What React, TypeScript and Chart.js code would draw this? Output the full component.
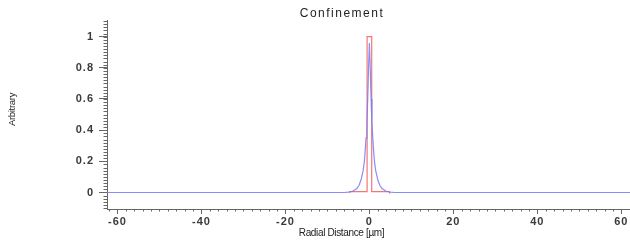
import React, { useEffect, useRef } from "react";
import { Chart, registerables } from "chart.js";

Chart.register(...registerables);

const chartTitle = "Confinement";
const xTitle = "Radial Distance [µm]";
const yTitle = "Arbitrary";

const xMin = -62.5;
const xMax = 62.07;
const yMin = -0.106;
const yMax = 1.107;

const xTicks = [-60, -40, -20, 0, 20, 40, 60];
const yTicks = [0, 0.2, 0.4, 0.6, 0.8, 1];
const xMinorStep = 2;
const yMinorStep = 0.02;

// Blue curve (broad peak)
const blueX = [-62.5, -6, -5, -4, -3, -2.5, -2, -1.5, -1.2, -1, -0.8, -0.6, -0.4, -0.2, 0, 0.2, 0.4, 0.6, 0.8, 1, 1.2, 1.5, 2, 2.5, 3, 4, 5, 6, 62.5];
const blueY = [0, 0, 0.002, 0.008, 0.025, 0.045, 0.08, 0.14, 0.2, 0.27, 0.35, 0.45, 0.6, 0.8, 0.96, 0.8, 0.6, 0.45, 0.35, 0.27, 0.2, 0.14, 0.08, 0.045, 0.025, 0.008, 0.002, 0, 0];

// Red curve (rectangular confinement)
const redX = [-4.8, -4.7, -0.55, -0.55, 0.55, 0.55, 4.7, 4.8];
const redY = [0, 0.005, 0.005, 1, 1, 0.005, 0.005, 0];

const FONT = "'Liberation Sans', Arial, sans-serif";

const decorPlugin = {
  id: "decor",
  beforeDraw(chart: any) {
    (chart.ctx as any).letterSpacing = "1px";
  },
  afterDraw(chart: any) {
    const ctx = chart.ctx as any;
    const xs = chart.scales.x;
    const ys = chart.scales.y;
    const area = chart.chartArea;
    ctx.save();
    ctx.strokeStyle = "#666";
    ctx.lineWidth = 1;
    ctx.beginPath();
    // minor x ticks
    const xStart = Math.ceil(xMin / xMinorStep) * xMinorStep;
    for (let v = xStart; v <= xMax + 1e-9; v += xMinorStep) {
      const px = Math.round(xs.getPixelForValue(v)) + 0.5;
      ctx.moveTo(px, area.bottom);
      ctx.lineTo(px, area.bottom + 2.5);
    }
    // minor y ticks
    const nStart = Math.ceil(yMin / yMinorStep);
    const nEnd = Math.floor(yMax / yMinorStep);
    for (let n = nStart; n <= nEnd; n++) {
      const v = n * yMinorStep;
      const py = Math.round(ys.getPixelForValue(v)) + 0.5;
      ctx.moveTo(area.left, py);
      ctx.lineTo(area.left - 3.5, py);
    }
    ctx.stroke();

    ctx.fillStyle = "#222";
    ctx.textAlign = "center";
    ctx.textBaseline = "middle";
    ctx.letterSpacing = "1.5px";
    ctx.font = `12px ${FONT}`;
    ctx.fillText(chartTitle, 342, 14);
    ctx.letterSpacing = "-0.35px";
    ctx.font = `10px ${FONT}`;
    ctx.fillText(xTitle, 341.5, 233.5);
    ctx.translate(12.5, 109.5);
    ctx.rotate(-Math.PI / 2);
    ctx.letterSpacing = "-0.3px";
    ctx.font = `9.5px ${FONT}`;
    ctx.fillText(yTitle, 0, 0);
    ctx.restore();
  },
};

export default function App() {
  const ref = useRef<HTMLCanvasElement | null>(null);

  useEffect(() => {
    document.body.style.margin = "0";
    const canvas = ref.current;
    if (!canvas) return;
    const chart = new Chart(canvas, {
      type: "line",
      data: {
        datasets: [
          {
            label: "blue",
            data: blueX.map((x, i) => ({ x, y: blueY[i] })),
            borderColor: "rgba(120,120,245,0.85)",
            borderWidth: 1.2,
            pointRadius: 0,
            tension: 0,
            fill: false,
          },
          {
            label: "red",
            data: redX.map((x, i) => ({ x, y: redY[i] })),
            borderColor: "rgba(238,95,95,0.85)",
            borderWidth: 1.2,
            pointRadius: 0,
            tension: 0,
            fill: false,
          },
        ],
      },
      plugins: [decorPlugin],
      options: {
        animation: false,
        responsive: false,
        events: [],
        layout: { padding: { top: 20, left: 0, right: 0, bottom: 0 } },
        plugins: {
          legend: { display: false },
          title: { display: false },
          tooltip: { enabled: false },
        },
        scales: {
          x: {
            type: "linear",
            min: xMin,
            max: xMax,
            afterBuildTicks: (s: any) => {
              s.ticks = xTicks.map((v) => ({ value: v }));
            },
            afterFit: (s: any) => {
              s.height = 32;
            },
            grid: {
              display: true,
              drawOnChartArea: false,
              drawTicks: true,
              tickLength: 5,
              tickColor: "#666",
            },
            border: { display: true, color: "#666" },
            ticks: {
              padding: 1,
              maxRotation: 0,
              autoSkip: false,
              color: "#3a3a3a",
              font: { family: FONT, size: 11, weight: "bold" },
              callback: (v: any) => String(v),
            },
          },
          y: {
            type: "linear",
            min: yMin,
            max: yMax,
            afterBuildTicks: (s: any) => {
              s.ticks = yTicks.map((v) => ({ value: v }));
            },
            afterFit: (s: any) => {
              s.width = 107;
            },
            grid: {
              display: true,
              drawOnChartArea: false,
              drawTicks: true,
              tickLength: 8,
              tickColor: "#666",
            },
            border: { display: true, color: "#666" },
            ticks: {
              padding: 5,
              autoSkip: false,
              color: "#3a3a3a",
              font: { family: FONT, size: 11, weight: "bold" },
              callback: (v: any) => String(Math.round(v * 10) / 10),
            },
          },
        },
      },
    } as any);
    return () => chart.destroy();
  }, []);

  return (
    <div style={{ width: 630, height: 241, position: "relative" }}>
      <canvas ref={ref} width={630} height={241} />
    </div>
  );
}
